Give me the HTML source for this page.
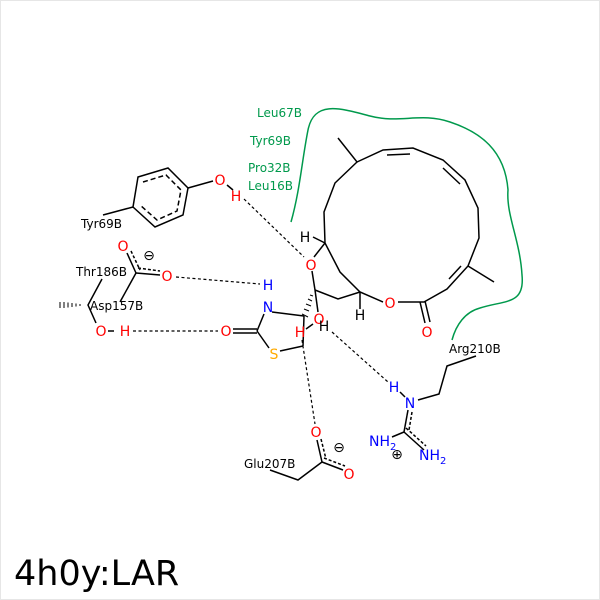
<!DOCTYPE html>
<html><head><style>
body{margin:0;background:#fff}
svg{display:block}
text{font-family:"DejaVu Sans","Liberation Sans",sans-serif}
</style></head><body>
<svg width="600" height="600" viewBox="0 0 600 600" xmlns="http://www.w3.org/2000/svg">
<rect x="0.5" y="0.5" width="599" height="599" fill="#fff" stroke="#e6e6e6"/>
<path d="M291,222 C300,190 302,160 308,130 C314,100 340,108 370,116 C400,124 420,112 450,122 C480,132 505,150 508,190 C506,215 520,240 522,275 C525,305 505,300 480,308 C465,312 456,325 452,340" fill="none" stroke="#00994c" stroke-width="1.5"/>
<g fill="#00994c" font-size="12">
<text x="257" y="117">Leu67B</text>
<text x="250" y="145">Tyr69B</text>
<text x="248" y="172">Pro32B</text>
<text x="248" y="190">Leu16B</text>
</g>
<g stroke="#000" stroke-width="1.5" fill="none">
<polyline points="338,138 357,162 383,150 413,148 443,160 465,180 478,208 479,238 468,266 447,289 424,302 398,302"/>
<polyline points="468,266 494,282"/>
<polyline points="383,302 360,292 340,272 325,243 324,212 335,183 357,162"/>
<line x1="387" y1="155" x2="410" y2="154"/>
<line x1="443" y1="168" x2="460" y2="184"/>
<line x1="461" y1="266" x2="449" y2="279"/>
<line x1="420" y1="302" x2="425" y2="323"/>
<line x1="425" y1="301" x2="430" y2="322"/>
<line x1="360" y1="292" x2="360" y2="309"/>
<line x1="325" y1="243" x2="313" y2="237"/>
<line x1="325" y1="243" x2="314" y2="257"/>
<polyline points="360,292 338,299 315,290"/>
<line x1="315" y1="290" x2="312" y2="271"/>
<line x1="315" y1="290" x2="318" y2="312"/>
<line x1="272" y1="312" x2="304" y2="316"/>
<line x1="264" y1="314" x2="257" y2="331"/>
<line x1="257" y1="331" x2="269" y2="348"/>
<line x1="280" y1="351" x2="303" y2="346"/>
<line x1="304" y1="316" x2="303" y2="346"/>
<line x1="233" y1="329" x2="257" y2="329"/>
<line x1="233" y1="333" x2="257" y2="333"/>
<line x1="313" y1="324" x2="306" y2="329"/>
<polygon points="138,177 168,168 188,188 183,215 155,227 133,207"/>
<polyline points="143,182 166,175 181,190 177,211 157,220 140,205" stroke-dasharray="5,3"/>
<line x1="133" y1="207" x2="103" y2="215"/>
<line x1="188" y1="188" x2="213" y2="181"/>
<line x1="227" y1="185" x2="233" y2="190"/>
<line x1="127" y1="253" x2="136" y2="273"/>
<line x1="131" y1="251" x2="140" y2="270" stroke-dasharray="3,2"/>
<line x1="136" y1="273" x2="160" y2="275"/>
<line x1="138" y1="268" x2="160" y2="271" stroke-dasharray="3,2"/>
<line x1="136" y1="273" x2="120" y2="302"/>
<polyline points="102,279 88,305 96,323"/>
<line x1="108" y1="331" x2="114" y2="331"/>
<line x1="317" y1="440" x2="322" y2="462"/>
<line x1="321" y1="439" x2="326" y2="459" stroke-dasharray="3,2"/>
<line x1="322" y1="462" x2="343" y2="470"/>
<line x1="324" y1="458" x2="345" y2="466" stroke-dasharray="3,2"/>
<polyline points="322,462 298,480 270,470"/>
<line x1="400" y1="392" x2="405" y2="397"/>
<polyline points="418,400 439,394 447,366 476,356"/>
<line x1="408" y1="410" x2="404" y2="432"/>
<line x1="412" y1="412" x2="409" y2="430" stroke-dasharray="3,2"/>
<line x1="404" y1="432" x2="392" y2="437"/>
<line x1="404" y1="432" x2="424" y2="450"/>
<line x1="406" y1="428" x2="426" y2="446" stroke-dasharray="3,2"/>
</g>
<g stroke="#000" stroke-width="1">
<line x1="60" y1="302" x2="60" y2="308"/><line x1="64" y1="302" x2="64" y2="308"/><line x1="68" y1="302.5" x2="68" y2="307.5"/><line x1="72" y1="303" x2="72" y2="307"/><line x1="76" y1="303.5" x2="76" y2="306.5"/><line x1="80" y1="304" x2="80" y2="306"/>
<line x1="302" y1="314" x2="308" y2="317"/><line x1="304" y1="309" x2="309" y2="311"/><line x1="306" y1="304" x2="311" y2="306"/><line x1="308" y1="299" x2="312" y2="301"/><line x1="310" y1="295" x2="313" y2="296"/>
</g>
<g stroke="#000" stroke-width="1.2" stroke-dasharray="3,2.5" fill="none">
<line x1="244" y1="199" x2="304" y2="257"/>
<line x1="176" y1="277" x2="260" y2="284"/>
<line x1="133" y1="331" x2="218" y2="331"/>
<line x1="302" y1="340" x2="315" y2="424"/>
<line x1="332" y1="332" x2="388" y2="382"/>
</g>
<g font-size="14" text-anchor="middle">
<text x="220" y="185" fill="#f00">O</text>
<text x="236" y="201" fill="#f00">H</text>
<text x="311" y="270" fill="#f00">O</text>
<text x="305" y="242" fill="#000">H</text>
<text x="390" y="308" fill="#f00">O</text>
<text x="427" y="337" fill="#f00">O</text>
<text x="360" y="320" fill="#000">H</text>
<text x="319" y="324" fill="#f00">O</text>
<text x="300" y="337" fill="#f00">H</text>
<text x="324" y="331" fill="#000">H</text>
<text x="268" y="290" fill="#00f">H</text>
<text x="268" y="312" fill="#00f">N</text>
<text x="226" y="336" fill="#f00">O</text>
<text x="274" y="359" fill="#fa0">S</text>
<text x="123" y="251" fill="#f00">O</text>
<text x="167" y="281" fill="#f00">O</text>
<text x="149" y="260" fill="#000">⊖</text>
<text x="101" y="336" fill="#f00">O</text>
<text x="125" y="336" fill="#f00">H</text>
<text x="316" y="437" fill="#f00">O</text>
<text x="349" y="479" fill="#f00">O</text>
<text x="339" y="452" fill="#000">⊖</text>
<text x="394" y="392" fill="#00f">H</text>
<text x="410" y="408" fill="#00f">N</text>
<text x="397" y="459" fill="#000">⊕</text>
</g>
<g font-size="14" fill="#00f">
<text x="369" y="446">NH<tspan font-size="10" dy="4">2</tspan></text>
<text x="419" y="460">NH<tspan font-size="10" dy="4">2</tspan></text>
</g>
<g font-size="12" fill="#000">
<text x="81" y="228">Tyr69B</text>
<text x="76" y="276">Thr186B</text>
<text x="90" y="310">Asp157B</text>
<text x="244" y="468">Glu207B</text>
<text x="449" y="353">Arg210B</text>
</g>
<text x="14" y="585" font-size="35" fill="#000">4h0y:LAR</text>
</svg>
</body></html>
